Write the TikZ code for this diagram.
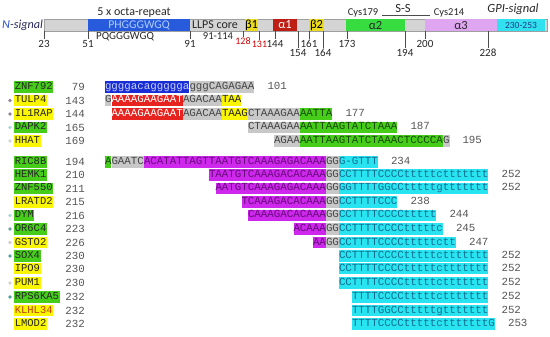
\documentclass[tikz,border=0pt]{standalone}
\usepackage{fontspec}
\setmainfont{Carlito}
\newfontfamily\mono{Liberation Mono}
\definecolor{sblue}{RGB}{25,45,215}
\definecolor{sbluet}{RGB}{200,210,250}
\definecolor{sgray}{RGB}{200,200,200}
\definecolor{sgrayt}{RGB}{70,70,70}
\definecolor{sred}{RGB}{230,35,30}
\definecolor{syel}{RGB}{250,245,0}
\definecolor{sgreen}{RGB}{70,205,25}
\definecolor{sgreent}{RGB}{25,75,10}
\definecolor{smag}{RGB}{205,40,235}
\definecolor{smagt}{RGB}{105,10,125}
\definecolor{scyan}{RGB}{40,228,240}
\definecolor{scyant}{RGB}{20,110,145}
\definecolor{numt}{RGB}{85,85,85}
\definecolor{dbar}{RGB}{212,212,212}
\definecolor{doct}{RGB}{40,90,220}
\definecolor{docttxt}{RGB}{175,205,255}
\definecolor{dbeta}{RGB}{235,220,30}
\definecolor{dalpha1}{RGB}{190,30,20}
\definecolor{dalpha2}{RGB}{55,220,65}
\definecolor{dalpha3}{RGB}{222,165,240}
\definecolor{dgpi}{RGB}{50,225,240}
\definecolor{dgpit}{RGB}{30,60,130}
\definecolor{nblue}{RGB}{40,80,200}
\definecolor{nnavy}{RGB}{40,40,90}
\newcommand\sg[5]{\node[seq,#2,anchor=west] (#1) at ({105+6.5*#3},#4) {#5};}
\newcommand\gn[5]{\node[gname,fill=#2] (#1) at (14,#3) {#4};\node[gnum] (#1n) at (85,#3) {#5};}
\begin{document}
\begin{tikzpicture}[x=1pt,y=-1pt,
  seq/.style={font=\mono\fontsize{10.83}{12}\selectfont,inner xsep=0pt,inner ysep=0pt,
     text height=7.2pt,text depth=2.2pt,minimum height=11.6pt,outer sep=0pt},
  sb/.style={fill=sblue,text=sbluet},
  sy/.style={fill=sgray,text=sgrayt},
  sr/.style={fill=sred,text=white},
  sl/.style={fill=syel,text=black!85},
  sgr/.style={fill=sgreen,text=sgreent},
  sm/.style={fill=smag,text=smagt},
  sc/.style={fill=scyan,text=scyant},
  sn/.style={fill=none,text=numt},
  gname/.style={font=\mono\fontsize{10.5}{12}\selectfont,anchor=west,inner xsep=0.6pt,inner ysep=0pt,
     text height=7.2pt,text depth=2.2pt,minimum height=11.6pt,text=black!85},
  gnum/.style={font=\mono\fontsize{10.83}{12}\selectfont,anchor=east,inner sep=0pt,text=numt},
  gdot/.style={circle,inner sep=0pt,minimum size=3.6pt},
  dom/.style={anchor=north west,inner sep=0pt,minimum height=12pt,outer sep=0pt,font=\fontsize{12.5}{13}\selectfont},
  lab/.style={font=\fontsize{11}{12}\selectfont,inner sep=0.5pt,text=black!85},
  tick/.style={draw=black!70,line width=0.7pt}
]
\useasboundingbox (0,0) rectangle (550,337);
% ---------- domain bar ----------
\node[dom,draw=gray!75,fill=dbar,minimum width=503pt] (bar) at (44,19) {};
\node[dom,fill=doct,text=docttxt,minimum width=102pt,font=\fontsize{11.8}{12}\selectfont] (oct) at (88,19) {PHGGGWGQ};
\node[dom,fill=dbeta,minimum width=13pt] (b1) at (245,19) {β1};
\node[dom,fill=dalpha1,text=white,minimum width=24pt] (a1) at (273,19) {α1};
\node[dom,fill=dbeta,minimum width=15pt] (b2) at (309,19) {β2};
\node[dom,fill=dalpha2,text=black!85,minimum width=59pt] (a2) at (346,19) {α2};
\node[dom,fill=dalpha3,text=black!85,minimum width=72pt] (a3) at (425,19) {α3};
\node[dom,fill=dgpi,text=dgpit,minimum width=48pt,font=\fontsize{9.5}{12}\selectfont] (gpi) at (497,19) {230-253};
\node[font=\fontsize{12}{12}\selectfont,text=black!85] (llps) at (215,25) {LLPS core};
\node[font=\itshape\fontsize{12.2}{12}\selectfont,anchor=west,inner sep=0pt] (nsig) at (2,25) {\textcolor{nblue}{N}\textcolor{nnavy}{-signal}};
\node[font=\fontsize{12}{12}\selectfont,text=black!85] (octa) at (134,13) {5 x octa-repeat};
\node[font=\fontsize{11}{12}\selectfont,text=black!85] (pq) at (125,36.5) {PQGGGWGQ};
\node[font=\fontsize{10.6}{12}\selectfont,text=black!85] (core) at (218,36.5) {91-114};
\node[font=\fontsize{10.5}{12}\selectfont,text=black!85] (c179) at (363,13) {Cys179};
\node[font=\fontsize{12.5}{12}\selectfont,text=black!85] (ss) at (403,8.5) {S-S};
\node[font=\fontsize{10.5}{12}\selectfont,text=black!85] (c214) at (449,13) {Cys214};
\draw[draw=black!70,line width=0.8pt] ([yshift=-2pt]c179.east) -- ([yshift=-2pt]c214.west);
\node[font=\itshape\fontsize{12.5}{12}\selectfont,text=black!85] (gpis) at (513,9) {GPI-signal};
% position labels and ticks
\node[lab] (l23) at (44,43.5) {23};
\node[lab] (l51) at (88,43.5) {51};
\node[lab] (l91) at (190,43.5) {91};
\node[lab,font=\fontsize{10}{12}\selectfont,text=red!80!black] (l128) at (243,41.5) {128};
\node[lab,font=\fontsize{10}{12}\selectfont,text=red!80!black] (l131) at (259.5,44) {131};
\node[lab] (l144) at (275,43.5) {144};
\node[lab] (l154) at (298,52.5) {154};
\node[lab] (l161) at (309,43.5) {161};
\node[lab] (l164) at (323,52.5) {164};
\node[lab] (l173) at (347,43.5) {173};
\node[lab] (l194) at (405,52.5) {194};
\node[lab] (l200) at (425,43.5) {200};
\node[lab] (l228) at (488,52.5) {228};
\foreach \t in {23,51,91,128,131,144,154,161,164,173,194,200,228}
  \draw[tick] (l\t.north |- bar.south) -- (l\t.north);
% ---------- gene names ----------
\gn{g1}{sgreen}{87}{ZNF792}{79}
\gn{g2}{syel}{100.5}{TULP4}{143}
\gn{g3}{syel}{114}{IL1RAP}{144}
\gn{g4}{sgreen}{127.5}{DAPK2}{165}
\gn{g5}{syel}{141}{HHAT}{169}
\gn{g6}{sgreen}{162}{RIC8B}{194}
\gn{g7}{sgreen}{175}{HEMK1}{210}
\gn{g8}{sgreen}{188.5}{ZNF550}{211}
\gn{g9}{syel}{202}{LRATD2}{215}
\gn{g10}{sgreen}{215.5}{DYM}{216}
\gn{g11}{sgreen}{229}{OR6C4}{223}
\gn{g12}{syel}{242.5}{GSTO2}{226}
\gn{g13}{sgreen}{256}{SOX4}{230}
\gn{g14}{syel}{268.5}{IPO9}{230}
\gn{g15}{syel}{283}{PUM1}{230}
\gn{g16}{sgreen}{297}{RPS6KA5}{232}
\node[gname,fill=syel,text={rgb,255:red,190;green,60;blue,20}] (g17) at (14,310.5) {KLHL34};
\node[gnum] (g17n) at (85,310.5) {232};
\gn{g18}{syel}{324}{LMOD2}{232}
% dots
\node[gdot,fill={rgb,255:red,150;green,130;blue,150}] (d2) at (10,100.5) {};
\node[gdot,fill={rgb,255:red,150;green,130;blue,150}] (d3) at (10,114) {};
\node[gdot,fill={rgb,255:red,175;green,215;blue,215}] (d4) at (10,127.5) {};
\node[gdot,fill={rgb,255:red,210;green,210;blue,215}] (d5) at (10,141) {};
\node[gdot,fill={rgb,255:red,175;green,215;blue,215}] (d10) at (10,215.5) {};
\node[gdot,fill={rgb,255:red,110;green,160;blue,160}] (d11) at (10,229) {};
\node[gdot,fill={rgb,255:red,215;green,200;blue,210}] (d12) at (10,242.5) {};
\node[gdot,fill={rgb,255:red,90;green,160;blue,160}] (d13) at (10,256) {};
\node[gdot,fill={rgb,255:red,210;green,210;blue,210}] (d15) at (10,283) {};
\node[gdot,fill={rgb,255:red,80;green,160;blue,160}] (d16) at (10,297) {};
% ---------- sequences ----------
\sg{s1a}{sb}{0}{87}{ggggacaggggga}
\sg{s1b}{sy}{13}{87}{gggCAGAGAA}
\sg{s1n}{sn}{25}{87}{101}
\sg{s2a}{sy}{0}{100.5}{G}
\sg{s2b}{sr}{1}{100.5}{AAAAGAAGAAT}
\sg{s2c}{sy}{12}{100.5}{AGACAA}
\sg{s2d}{sl}{18}{100.5}{TAA}
\sg{s3a}{sr}{1}{114}{AAAAGAAGAAT}
\sg{s3b}{sy}{12}{114}{AGACAA}
\sg{s3c}{sl}{18}{114}{TAAG}
\sg{s3d}{sy}{22}{114}{CTAAAGAA}
\sg{s3e}{sgr}{30}{114}{AATTA}
\sg{s3n}{sn}{37}{114}{177}
\sg{s4a}{sy}{22}{127.5}{CTAAAGAA}
\sg{s4b}{sgr}{30}{127.5}{AATTAAGTATCTAAA}
\sg{s4n}{sn}{47}{127.5}{187}
\sg{s5a}{sy}{26}{141}{AGAA}
\sg{s5b}{sgr}{30}{141}{AATTAAGTATCTAAACTCCCCA}
\sg{s5c}{sy}{52}{141}{G}
\sg{s5n}{sn}{55}{141}{195}
\sg{s6a}{sgr}{0}{162}{A}
\sg{s6b}{sy}{1}{162}{GAATC}
\sg{s6c}{sm}{6}{162}{ACATATTAGTTAATGTCAAAGAGACAAA}
\sg{s6d}{sy}{34}{162}{GG}
\sg{s6e}{sc}{36}{162}{G-GTTT}
\sg{s6n}{sn}{44}{162}{234}
\sg{s7a}{sm}{16}{175}{TAATGTCAAAGACACAAA}
\sg{s7b}{sy}{34}{175}{GG}
\sg{s7c}{sc}{36}{175}{CCTTTTCCCCtttttcttttttt}
\sg{s7n}{sn}{61}{175}{252}
\sg{s8a}{sm}{17}{188.5}{AATGTCAAAGAGACAAA}
\sg{s8b}{sy}{34}{188.5}{GG}
\sg{s8c}{sc}{36}{188.5}{GGTTTTGGCCtttttgttttttt}
\sg{s8n}{sn}{61}{188.5}{252}
\sg{s9a}{sm}{21}{202}{TCAAAGACACAAA}
\sg{s9b}{sy}{34}{202}{GG}
\sg{s9c}{sc}{36}{202}{CCTTTTCCC}
\sg{s9n}{sn}{47}{202}{238}
\sg{s10a}{sm}{22}{215.5}{CAAAGACACAAA}
\sg{s10b}{sy}{34}{215.5}{GG}
\sg{s10c}{sc}{36}{215.5}{CCTTTTCCCCttttt}
\sg{s10n}{sn}{53}{215.5}{244}
\sg{s11a}{sm}{29}{229}{ACAAA}
\sg{s11b}{sy}{34}{229}{GG}
\sg{s11c}{sc}{36}{229}{CCTTTTCCCCtttttc}
\sg{s11n}{sn}{54}{229}{245}
\sg{s12a}{sm}{32}{242.5}{AA}
\sg{s12b}{sy}{34}{242.5}{GG}
\sg{s12c}{sc}{36}{242.5}{CCTTTTCCCCtttttctt}
\sg{s12n}{sn}{56}{242.5}{247}
\sg{s13a}{sc}{36}{256}{CCTTTTCCCCtttttcttttttt}
\sg{s13n}{sn}{61}{256}{252}
\sg{s14a}{sc}{36}{268.5}{CCTTTTCCCCtttttcttttttt}
\sg{s14n}{sn}{61}{268.5}{252}
\sg{s15a}{sc}{36}{283}{CCTTTTCCCCtttttcttttttt}
\sg{s15n}{sn}{61}{283}{252}
\sg{s16a}{sc}{38}{297}{TTTTCCCCtttttcttttttt}
\sg{s16n}{sn}{61}{297}{252}
\sg{s17a}{sc}{38}{310.5}{TTTTGGCCtttttgttttttt}
\sg{s17n}{sn}{61}{310.5}{252}
\sg{s18a}{sc}{38}{324}{TTTTCCCCtttttctttttttG}
\sg{s18n}{sn}{62}{324}{253}
\end{tikzpicture}
\end{document}
